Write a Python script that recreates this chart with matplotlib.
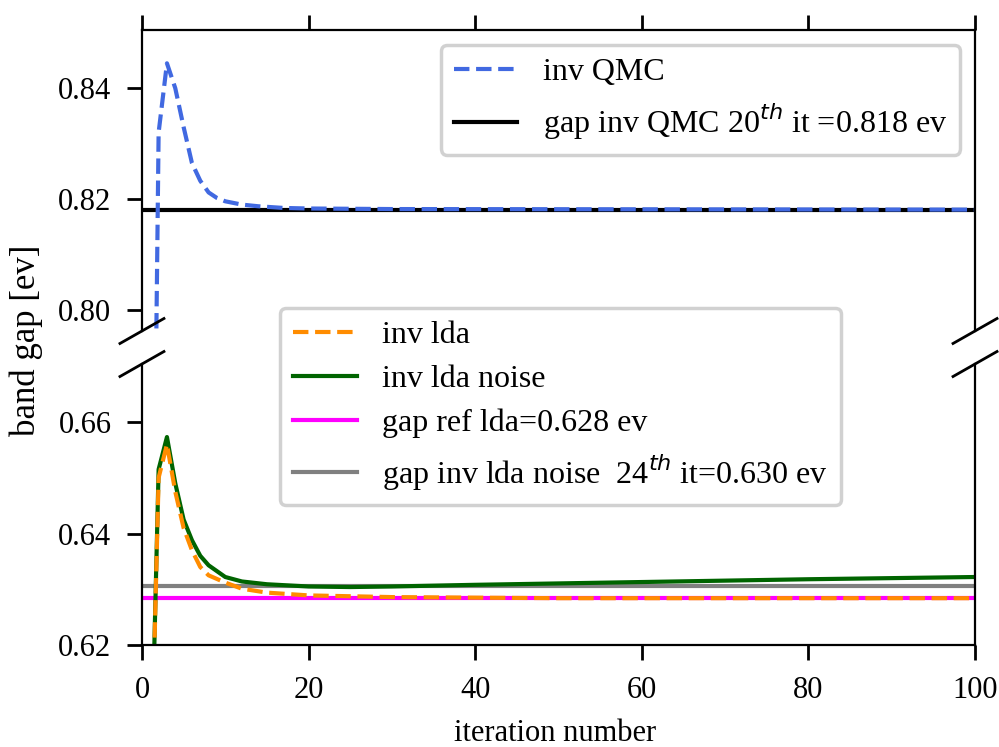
import matplotlib
matplotlib.use('Agg')
import matplotlib.pyplot as plt

plt.rcParams['font.family'] = ['Liberation Serif', 'DejaVu Serif']
plt.rcParams['axes.linewidth'] = 1.6

# iteration numbers and band gaps (ev)
it_qmc = [1, 2, 3, 4, 5, 6, 7, 8, 9, 10, 12, 14, 17, 20, 30, 100]
gap_qmc = [0.700, 0.832, 0.8445, 0.840, 0.833, 0.8265, 0.8233, 0.8212, 0.8202,
           0.8196, 0.8190, 0.8187, 0.8184, 0.8183, 0.8182, 0.8181]

it_lda = [1, 2, 3, 4, 5, 6, 7, 8, 10, 12, 15, 17, 20, 30, 50, 100]
gap_lda = [0.590, 0.650, 0.656, 0.6475, 0.641, 0.6370, 0.6340, 0.6325, 0.6312,
           0.6301, 0.6294, 0.6292, 0.6289, 0.6286, 0.6284, 0.6284]

it_noise = [1, 2, 3, 4, 5, 6, 7, 8, 10, 12, 15, 20, 25, 30, 40, 60, 80, 100]
gap_noise = [0.590, 0.6515, 0.6573, 0.6490, 0.6425, 0.6388, 0.6360, 0.6343, 0.6322,
             0.6314, 0.6309, 0.6305, 0.6304, 0.6305, 0.6308, 0.6313, 0.6318, 0.6322]

gap_qmc_20 = 0.8181
gap_ref_lda = 0.6284
gap_noise_24 = 0.6306

xlim = (0, 100)
ylim_top = (0.7962, 0.8505)
ylim_bot = (0.62, 0.6704)

fig = plt.figure(figsize=(9.99, 7.47), dpi=100)
ax1 = fig.add_axes([0.1421, 0.5569, 0.8339, 0.4029])
ax2 = fig.add_axes([0.1421, 0.1365, 0.8339, 0.3762])

lw = 3
for ax in (ax1, ax2):
    ax.axhline(gap_ref_lda, color='magenta', lw=lw, label='gap ref lda=0.628 ev')
    ax.axhline(gap_noise_24, color='gray', lw=lw,
               label=r'gap inv lda noise  24$^{th}$ it=0.630 ev')
    ax.axhline(gap_qmc_20, color='black', lw=lw,
               label=r'gap inv QMC 20$^{th}$ it =0.818 ev')
    ax.plot(it_noise, gap_noise, color='darkgreen', lw=lw, label='inv lda noise')
    ax.plot(it_lda, gap_lda, '--', color='darkorange', lw=lw, label='inv lda')
    ax.plot(it_qmc, gap_qmc, '--', color='royalblue', lw=lw, label='inv QMC')
    ax.set_xlim(*xlim)
    ax.tick_params(direction='out', length=11, width=2, labelsize=22, pad=11)

ax1.set_ylim(*ylim_top)
ax2.set_ylim(*ylim_bot)
ax1.set_yticks([0.80, 0.82, 0.84])
ax2.set_yticks([0.62, 0.64, 0.66])
ax1.yaxis.set_major_formatter(matplotlib.ticker.FormatStrFormatter('%.2f'))
ax2.yaxis.set_major_formatter(matplotlib.ticker.FormatStrFormatter('%.2f'))

ax1.spines['bottom'].set_visible(False)
ax2.spines['top'].set_visible(False)
ax1.xaxis.tick_top()
ax1.tick_params(labeltop=False)
ax2.xaxis.tick_bottom()
ax2.set_xticks([0, 20, 40, 60, 80, 100])

# break marks
dx = 0.0264
kw = dict(color='k', clip_on=False, lw=2)
dy1 = 0.0415
ax1.plot((-dx, dx), (-dy1, dy1), transform=ax1.transAxes, **kw)
ax1.plot((1 - dx, 1 + dx), (-dy1, dy1), transform=ax1.transAxes, **kw)
dy2 = 0.0445
ax2.plot((-dx, dx), (1 - dy2, 1 + dy2), transform=ax2.transAxes, **kw)
ax2.plot((1 - dx, 1 + dx), (1 - dy2, 1 + dy2), transform=ax2.transAxes, **kw)

h1, l1 = ax1.get_legend_handles_labels()
d1 = dict(zip(l1, h1))
top_labels = ['inv QMC', r'gap inv QMC 20$^{th}$ it =0.818 ev']
leg1 = ax1.legend([d1[l] for l in top_labels], top_labels, loc='upper right',
                  bbox_to_anchor=(960 / 999, 1 - 45 / 747), bbox_transform=fig.transFigure,
                  borderaxespad=0, fontsize=23, handlelength=2.0, handletextpad=0.8,
                  labelspacing=0.45, framealpha=1, edgecolor='0.82')
leg1.get_frame().set_linewidth(2.5)

h2, l2 = ax2.get_legend_handles_labels()
d2 = dict(zip(l2, h2))
bot_labels = ['inv lda', 'inv lda noise', 'gap ref lda=0.628 ev',
              r'gap inv lda noise  24$^{th}$ it=0.630 ev']
leg2 = ax2.legend([d2[l] for l in bot_labels], bot_labels, loc='upper left',
                  bbox_to_anchor=(280 / 999, 1 - 308 / 747), bbox_transform=fig.transFigure,
                  borderaxespad=0, fontsize=23, handlelength=2.0, handletextpad=0.8,
                  labelspacing=0.45, framealpha=1, edgecolor='0.82')
leg2.get_frame().set_linewidth(2.5)

fig.text(555 / 999, 1 - 741 / 747, 'iteration number', fontsize=22, va='baseline', ha='center')
fig.text(26 / 999, 1 - 340 / 747, 'band gap [ev]', rotation=90, fontsize=25,
         va='center', ha='center')

fig.savefig('out.png', dpi=100, facecolor='white')
